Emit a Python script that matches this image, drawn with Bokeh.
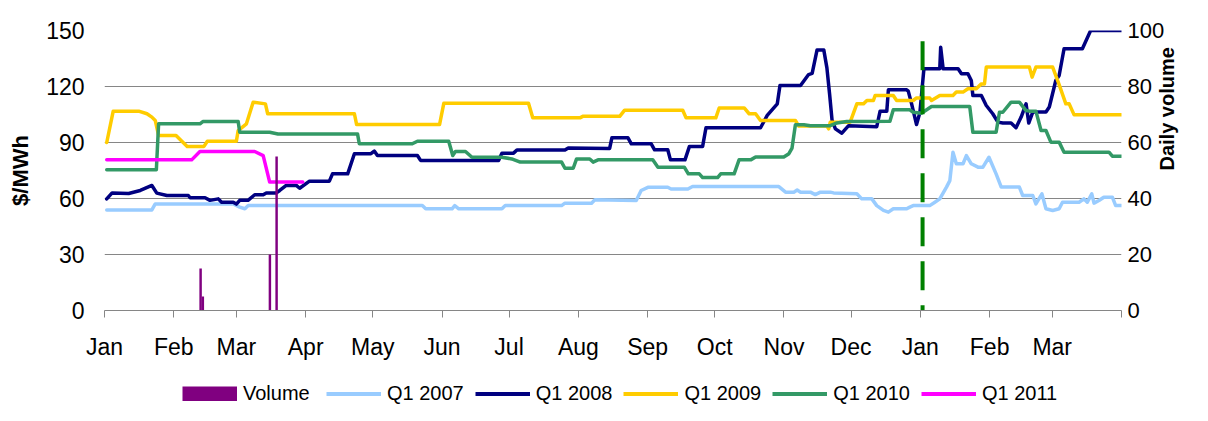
import math
from bokeh.plotting import figure
from bokeh.layouts import column
from bokeh.models import Range1d, LinearAxis, FixedTicker, Legend, LegendItem
from bokeh.embed import file_html
from bokeh.resources import INLINE

FONT = "Liberation Sans"

# ---------------- data ----------------
month_days = [0, 31, 59, 90, 120, 151, 181, 212, 243, 273, 304, 334, 365, 396, 424, 455]
month_labels = ["Jan", "Feb", "Mar", "Apr", "May", "Jun", "Jul", "Aug", "Sep", "Oct",
                "Nov", "Dec", "Jan", "Feb", "Mar", ""]
price_ticks = [0, 30, 60, 90, 120, 150]
volume_ticks = [0, 20, 40, 60, 80, 100]

volume_day = [43, 44, 74, 77]
volume = [15, 5, 20, 55]

q2007_day = [1, 21.2, 22.7, 57.6, 60.5, 62.8, 64.3, 142.2, 143.7, 155.5, 156.7, 158.5, 177.8,
             179.3, 204.5, 206, 217.9, 219.4, 237.9, 240.1, 243.1, 252, 253.5, 261, 263.1,
             301.7, 304.7, 308.4, 309.9, 311.4, 315.8, 318, 320.3, 324.7, 326.2, 336.6,
             338.8, 343.3, 345.5, 348.5, 350.7, 352.9, 358.9, 360.3, 361.8, 369.2, 371.5,
             373.7, 376.7, 378.2, 379.6, 381.1, 384.1, 385.6, 387.8, 390.8, 393, 395.7,
             398.9, 401.2, 409.3, 410.8, 415.3, 416.7, 419.4, 421.2, 424.2, 427.1, 428.6,
             436, 438.2, 439.7, 441.7, 442.7, 444.9, 447.1, 450.9, 452.4, 455]
q2007 = [53.9, 53.9, 57.1, 57.1, 55.4, 54.5, 56.2, 56.2, 54.5, 54.5, 56.2, 54.5, 54.5,
         56.2, 56.2, 57.5, 57.5, 59.3, 58.9, 64.3, 66.0, 66.0, 65.1, 65.1, 66.4,
         66.4, 63.4, 63.4, 64.5, 63.4, 63.4, 62.1, 63.4, 63.4, 63.0, 62.5,
         59.8, 59.8, 56.2, 53.6, 52.7, 54.5, 54.5, 55.4, 56.2, 56.2, 58.0,
         59.8, 66.1, 69.6, 84.8, 78.6, 78.6, 83.0, 78.6, 76.8, 76.8, 82.1,
         73.2, 66.1, 66.1, 61.6, 61.6, 57.1, 62.5, 54.5, 53.6, 54.5, 58.0,
         58.0, 59.8, 58.0, 62.5, 57.5, 58.9, 60.7, 60.7, 56.2, 56.2]

q2008_day = [1, 3.4, 10.8, 16, 21.2, 23.4, 27.9, 37.5, 38.3, 45, 47.2, 50.9, 52.4, 57.6, 59,
             60.5, 64.2, 67.2, 71, 72.4, 76.9, 78.4, 81.3, 85.8, 87.3, 91.7, 100.6, 102,
             108.8, 111.8, 119.2, 120.7, 122.1, 140, 141.4, 176.3, 177.8, 183, 184.5, 206,
             207.5, 226, 227, 234.2, 235.7, 244.6, 246.1, 252, 253.2, 259.7, 261.7, 267.6,
             269.1, 293.5, 296.5, 301, 302.2, 311.4, 315, 316.6, 318.8, 321.8, 323.2, 324.4,
             325.5, 327, 329.9, 332.9, 345.5, 347, 350, 350.7, 358.9, 359.6, 361.1, 363.3,
             364.8, 366.6, 373.7, 374.1, 375.2, 381.9, 383.4, 386.3, 387.8, 388.5, 392.3,
             394.5, 397.4, 399.7, 401.9, 405.6, 407.8, 410.1, 412.3, 413.5, 415.3, 421.2,
             422.7, 425.6, 427.1, 429.3, 437.5, 441.2, 455]
q2008 = [59.8, 63.0, 62.7, 64.3, 67.0, 62.9, 61.6, 61.6, 60.4, 60.4, 59.0, 59.8, 58.0, 58.0, 57.0,
         59.0, 59.0, 62.0, 62.0, 63.0, 63.0, 64.3, 67.0, 67.0, 65.5, 69.3, 69.3, 73.2,
         73.2, 84.0, 84.0, 85.4, 83.0, 83.0, 80.4, 80.4, 84.3, 84.3, 86.0, 86.0,
         87.1, 86.8, 92.5, 92.5, 89.3, 89.3, 86.1, 86.1, 80.7, 80.7, 87.9, 87.9,
         97.9, 97.9, 104.5, 110.7, 120.5, 120.5, 126.4, 127.0, 139.6, 139.6, 130.0, 116.0,
         102.0, 97.3, 95.0, 99.0, 98.5, 106.8, 106.8, 118.2, 118.2, 117.5, 110.7, 99.6,
         106.0, 129.5, 129.5, 141.0, 129.5, 129.5, 126.8, 126.8, 123.2, 115.2, 115.2,
         109.8, 105.4, 100.9, 100.4, 100.4, 97.9, 103.6, 110.7, 100.4, 106.3, 106.3,
         109.0, 123.2, 125.9, 140.2, 140.2, 150.0, 150.0]

q2009_day = [1, 3.9, 15.3, 19, 21.2, 22.7, 24.2, 32, 37, 44.5, 46, 59, 59.8, 63.5, 66.5, 72,
             73, 111.8, 112.8, 149.9, 151.8, 189.7, 191.6, 212.7, 214.2, 230.5, 232.7,
             258.7, 260.2, 273.5, 275, 286.2, 288.4, 291.3, 293.5, 309.1, 310.6, 323.2, 324,
             324.7, 333.6, 336.6, 339.6, 341.1, 344, 344.8, 352.9, 354.4, 361.8, 363.3,
             369.2, 370, 373.7, 379.6, 381.1, 384.1, 386.3, 390, 392.3, 393.7, 394.5, 413.8,
             415, 416.7, 424.2, 427.1, 430.1, 431.6, 433.8, 455]
q2009 = [90.0, 106.8, 106.8, 105.4, 103.6, 101.8, 93.8, 93.8, 87.9, 87.9, 90.7, 90.7, 96.4,
         100.0, 111.6, 110.7, 105.4, 105.4, 99.6, 99.6, 111.0, 111.0, 103.2, 103.2, 104.1,
         104.0, 107.3, 107.3, 103.2, 103.2, 108.5, 108.5, 105.4, 105.4, 101.8, 101.8,
         98.8, 98.8, 97.3, 100.9, 100.9, 110.7, 110.7, 112.5, 112.5, 115.2, 115.2, 112.5,
         112.5, 113.9, 113.9, 112.5, 115.2, 115.2, 117.0, 117.0, 118.8, 118.8, 121.4,
         121.4, 130.4, 130.4, 125.0, 130.4, 130.4, 121.0, 110.7, 110.7, 104.8, 104.8]

q2010_day = [1, 23.2, 24.2, 42.7, 44, 59.8, 60.5, 73.9, 77.6, 113.2, 114, 137.7, 140, 154,
             155.8, 157, 161.5, 164.4, 177.8, 182.2, 186, 204.5, 206, 209.7, 211.2, 217.1,
             218.6, 220.8, 245.3, 247.6, 259.4, 261.2, 266.1, 267.6, 274.3, 275.7, 281.7,
             283.9, 289.1, 291.3, 303.9, 306.2, 307.6, 309.1, 312.9, 315.8, 324.7, 327.7,
             332.1, 351.4, 352.9, 360.3, 361.8, 365.5, 370, 387.1, 388.5, 398.9, 400.4,
             401.9, 405.6, 409.3, 412.3, 413.8, 416.7, 419, 421.2, 423.4, 427.1, 429.3,
             449.4, 450.9, 455]
q2010 = [75.4, 75.4, 100.0, 100.0, 101.2, 101.2, 95.5, 95.5, 94.6, 94.6, 89.3, 89.3, 90.7, 90.7,
         83.0, 85.2, 85.2, 82.1, 82.1, 81.2, 79.5, 79.5, 76.2, 76.2, 81.2, 81.2,
         79.5, 80.7, 80.7, 76.8, 76.8, 73.2, 73.2, 71.2, 71.2, 73.2, 73.2,
         80.7, 80.7, 82.2, 82.2, 84.0, 87.0, 99.5, 99.5, 99.0, 99.0, 100.5,
         101.3, 101.4, 107.5, 107.5, 106.2, 105.7, 109.3, 109.3, 95.5, 95.5, 106.2,
         106.2, 111.6, 111.6, 107.1, 106.8, 106.8, 96.4, 96.4, 90.2, 90.2, 84.8,
         84.8, 82.7, 82.7]

q2011_day = [1, 39, 42.7, 67.2, 71, 73.9, 88.7]
q2011 = [80.7, 80.7, 85.2, 85.2, 83.0, 68.8, 68.8]

marker_day = 366
marker_top = 144.3

series = [
    ("Q1 2007", q2007_day, q2007, "#99CCFF"),
    ("Q1 2008", q2008_day, q2008, "#000080"),
    ("Q1 2009", q2009_day, q2009, "#FFCC00"),
    ("Q1 2010", q2010_day, q2010, "#339966"),
    ("Q1 2011", q2011_day, q2011, "#FF00FF"),
]
VOLUME_COLOR = "#800080"

# ---------------- main chart ----------------
p = figure(width=1192, height=365, x_range=Range1d(0, 455), y_range=Range1d(0, 150),
           output_backend="svg", toolbar_location=None,
           min_border_left=104, min_border_right=70, min_border_top=30, min_border_bottom=55,
           outline_line_color=None, background_fill_color="white", border_fill_color="white")
p.extra_y_ranges = {"vol": Range1d(0, 100)}

GRID = "#868686"

xa = p.xaxis[0]
xa.ticker = FixedTicker(ticks=month_days, minor_ticks=[])
xa.major_label_overrides = {d: lab for d, lab in zip(month_days, month_labels)}
xa.axis_line_color = GRID
xa.major_tick_line_color = GRID
xa.major_tick_out = 7
xa.major_tick_in = 0
xa.minor_tick_line_color = None
xa.major_label_standoff = 16
xa.major_label_text_font = FONT
xa.major_label_text_font_size = "23px"
xa.major_label_text_color = "black"

ya = p.yaxis[0]
ya.ticker = FixedTicker(ticks=price_ticks, minor_ticks=[])
ya.axis_line_color = None
ya.major_tick_line_color = None
ya.minor_tick_line_color = None
ya.major_tick_out = 0
ya.major_label_standoff = 20
ya.major_label_text_font = FONT
ya.major_label_text_font_size = "23px"
ya.major_label_text_color = "black"
ya.axis_label = "$/MWh"
ya.axis_label_standoff = 10
ya.axis_label_text_font = FONT
ya.axis_label_text_font_size = "22px"
ya.axis_label_text_font_style = "bold"
ya.axis_label_text_color = "black"

ra = LinearAxis(y_range_name="vol", ticker=FixedTicker(ticks=volume_ticks, minor_ticks=[]))
ra.axis_line_color = None
ra.major_tick_line_color = None
ra.minor_tick_line_color = None
ra.major_tick_out = 0
ra.major_label_standoff = 6
ra.major_label_text_font = FONT
ra.major_label_text_font_size = "22px"
ra.major_label_text_color = "black"
ra.axis_label = "Daily volume"
ra.axis_label_standoff = 0
ra.axis_label_text_font = FONT
ra.axis_label_text_font_size = "20px"
ra.axis_label_text_font_style = "bold"
ra.axis_label_text_color = "black"
try:
    ra.axis_label_orientation = math.pi / 2
except Exception:
    pass
p.add_layout(ra, "right")

p.xgrid.visible = False
p.ygrid.grid_line_color = GRID
p.ygrid.grid_line_width = 1

for name, xs, ys, col in series:
    p.line(xs, ys, line_color=col, line_width=3.5, line_join="round", line_cap="round")

p.vbar(x=volume_day, top=volume, width=1.1, bottom=0, y_range_name="vol",
       fill_color=VOLUME_COLOR, line_color=None)

p.segment(x0=[marker_day], y0=[marker_top], x1=[marker_day], y1=[0],
          line_color="#008000", line_width=4, line_dash="29 15")

# ---------------- legend strip ----------------
lg = figure(width=1192, height=40, x_range=Range1d(0, 1), y_range=Range1d(0, 1),
            x_axis_type=None, y_axis_type=None, output_backend="svg", toolbar_location=None,
            min_border=0, outline_line_color=None, background_fill_color="white",
            border_fill_color="white")
lg.xgrid.visible = False
lg.ygrid.visible = False
# off-range stand-ins so that the legend can draw each series' swatch
items = [LegendItem(label="Volume",
                    renderers=[lg.line(x=[-5, -4], y=[-5, -5], line_color=VOLUME_COLOR,
                                       line_width=15, line_cap="butt")])]
for name, xs, ys, col in series:
    items.append(LegendItem(label=name,
                            renderers=[lg.line(x=[-5, -4], y=[-5, -5], line_color=col,
                                               line_width=4)]))
legend = Legend(items=items, orientation="horizontal", location=(78, 0),
                glyph_width=55, glyph_height=15, label_standoff=6, spacing=11,
                padding=0, margin=0, border_line_color=None, background_fill_alpha=0,
                label_text_font=FONT, label_text_font_size="20px", label_height=20,
                label_width=72, label_text_color="black")
lg.add_layout(legend)

page = column(p, lg, spacing=0)
open("out.html", "w").write(file_html(page, INLINE))
